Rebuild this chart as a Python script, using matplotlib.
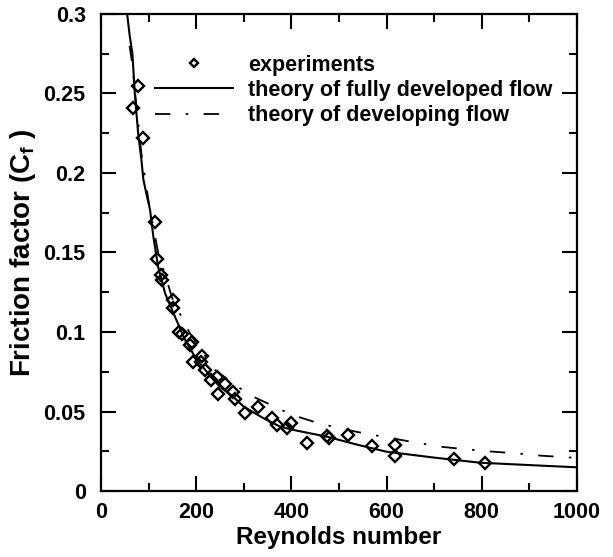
import matplotlib
matplotlib.use("Agg")
import matplotlib.pyplot as plt
from matplotlib.ticker import MultipleLocator, FormatStrFormatter

plt.rcParams['font.family'] = ['Liberation Sans', 'DejaVu Sans']
plt.rcParams['font.weight'] = 'bold'
plt.rcParams['mathtext.fontset'] = 'custom'
plt.rcParams['mathtext.rm'] = 'Liberation Sans'
plt.rcParams['mathtext.bf'] = 'Liberation Sans:bold'
plt.rcParams['mathtext.it'] = 'Liberation Sans:italic'

# experimental data (Reynolds number, friction factor)
exp_re = [67.9, 77.1, 88.9, 113.4, 118, 125.5, 128.5, 152, 150.6, 164.5, 169.5,
          190.5, 186, 194, 213, 210, 218, 230.5, 243, 260.5, 246.5, 278, 281.5,
          302.5, 330.5, 358.6, 369, 390, 400, 433, 474, 480, 519, 570, 617, 617,
          742, 807]
exp_cf = [0.241, 0.255, 0.222, 0.169, 0.146, 0.136, 0.133, 0.120, 0.115, 0.100, 0.099,
          0.094, 0.092, 0.081, 0.085, 0.081, 0.076, 0.070, 0.072, 0.0675, 0.061, 0.0625, 0.058,
          0.049, 0.053, 0.0457, 0.0415, 0.0394, 0.043, 0.0304, 0.0346, 0.0331, 0.0355, 0.0285,
          0.029, 0.022, 0.020, 0.0176]

# theory of fully developed flow
fd_re = [55, 60, 66, 71, 78, 85, 89, 96, 103, 110, 120, 135, 152, 175, 200, 225, 250,
         275, 300, 340, 376, 404, 474, 540, 600, 700, 796, 900, 1000]
fd_cf = [0.300, 0.287, 0.275, 0.250, 0.225, 0.208, 0.196, 0.186, 0.177, 0.160, 0.141,
         0.124, 0.112, 0.096, 0.083, 0.074, 0.0655, 0.060, 0.053, 0.046, 0.0405, 0.0384,
         0.0342, 0.0290, 0.0247, 0.0210, 0.0178, 0.0163, 0.0149]

# theory of developing flow
dv_re = [60, 66, 75, 85, 100, 120, 150, 185, 222, 240, 292, 320, 387, 418, 453, 500,
         557, 609, 662, 715, 768, 820, 873, 925, 1000]
dv_cf = [0.280, 0.268, 0.240, 0.212, 0.182, 0.150, 0.121, 0.100, 0.0835, 0.076, 0.0646,
         0.0593, 0.0499, 0.0463, 0.0430, 0.0395, 0.0360, 0.0333, 0.0304, 0.0278, 0.0262,
         0.0248, 0.0237, 0.0222, 0.0208]

fig = plt.figure(figsize=(6.13, 5.57), dpi=100)
ax = fig.add_axes([101/613, 1 - 491/557, 476/613, 477/557])

ax.plot(exp_re, exp_cf, linestyle='none', marker='D', markersize=6.2,
        markerfacecolor='none', markeredgecolor='black', markeredgewidth=1.7,
        label='experiments', zorder=3)
ax.plot(fd_re, fd_cf, color='black', linewidth=1.5,
        label='theory of fully developed flow', zorder=2)
ax.plot(dv_re, dv_cf, color='black', linewidth=1.3, dashes=(8.5, 8.5, 1.4, 8.5),
        label='theory of developing flow', zorder=2)

ax.set_xlim(0, 1000)
ax.set_ylim(0, 0.3)
ax.xaxis.set_major_locator(MultipleLocator(200))
ax.xaxis.set_minor_locator(MultipleLocator(100))
ax.yaxis.set_major_locator(MultipleLocator(0.05))
ax.yaxis.set_minor_locator(MultipleLocator(0.025))
ax.yaxis.set_major_formatter(FormatStrFormatter('%g'))

ax.tick_params(which='both', direction='in', top=True, right=True, width=1.5,
               labelsize=15.5)
ax.tick_params(axis='y', which='major', pad=11)
ax.tick_params(axis='x', which='major', pad=8)
ax.tick_params(which='major', length=11)
ax.tick_params(which='minor', length=5.5)
for s in ax.spines.values():
    s.set_linewidth(1.6)

ax.set_xlabel('Reynolds number', fontsize=17.5, fontweight='bold', labelpad=2)
ax.set_ylabel(r'Friction factor (C$_\mathbf{f}$ )', fontsize=20, fontweight='bold', labelpad=4)

leg = ax.legend(loc='upper left', bbox_to_anchor=(0.114, 0.915), frameon=False,
                fontsize=15.5, handlelength=3.6, handletextpad=0.7,
                labelspacing=0.2, borderpad=0, borderaxespad=0, markerscale=0.7)

fig.savefig('out.png', dpi=100)
